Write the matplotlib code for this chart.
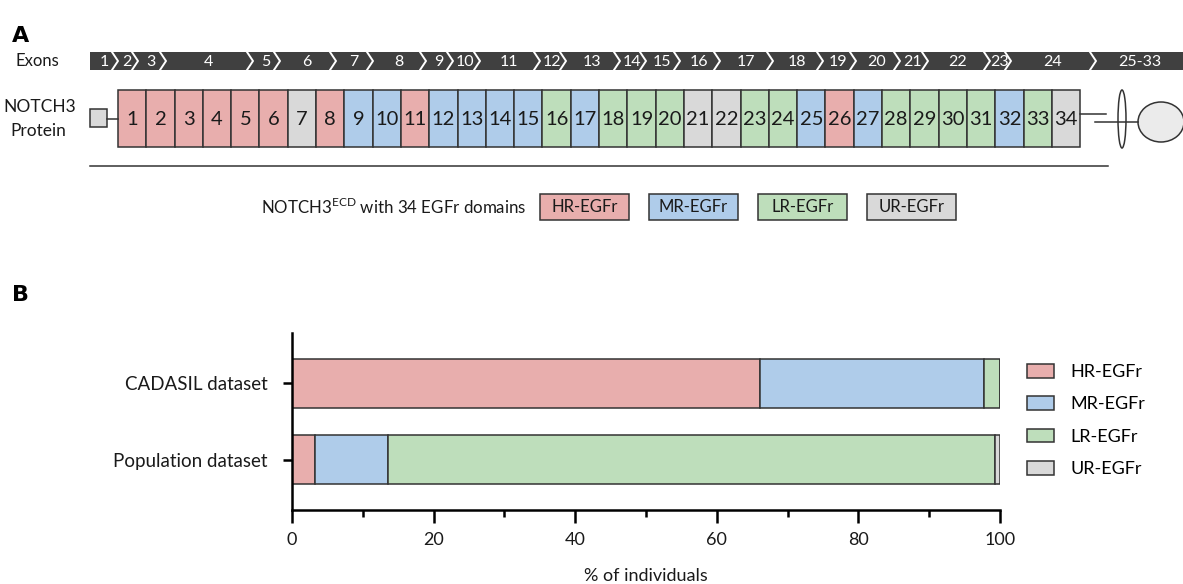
import numpy as np
import matplotlib.pyplot as plt
from matplotlib.patches import Rectangle, Ellipse

plt.rcParams['font.family'] = ['Lato', 'DejaVu Sans']
plt.rcParams['mathtext.fontset'] = 'custom'
plt.rcParams['mathtext.rm'] = 'Lato'

# ---- data ----
classes = ["HR-EGFr", "MR-EGFr", "LR-EGFr", "UR-EGFr"]
colors = ["#E8AEAD", "#AFCCEA", "#BEDEBB", "#D9D9D9"]

# EGFr domain class for domains 1..34 (index into classes)
domain_class = [0, 0, 0, 0, 0, 0, 3, 0, 1, 1,
                0, 1, 1, 1, 1, 2, 1, 2, 2, 2,
                3, 3, 2, 2, 1, 0, 1, 2, 2, 2,
                2, 1, 2, 3]

exon_labels = ["1", "2", "3", "4", "5", "6", "7", "8", "9", "10", "11", "12",
               "13", "14", "15", "16", "17", "18", "19", "20", "21", "22",
               "23", "24", "25-33"]
# exon borders on the diagram scale
exon_edges = [90, 115, 135, 163, 250, 277, 333, 370, 423, 450, 477, 537, 563,
              617, 643, 677, 717, 770, 820, 853, 897, 925, 987, 1008, 1093, 1183]

datasets = ["CADASIL dataset", "Population dataset"]
pct_cadasil = [66.1, 31.7, 2.2, 0.0]
pct_population = [3.3, 10.2, 85.8, 0.7]

edge = "#333333"
txt = "#1a1a1a"

fig = plt.figure(figsize=(11.83, 5.84), dpi=100)

# overlay axes in pixel coordinates for panel A
ov = fig.add_axes([0, 0, 1, 1])
ov.set_xlim(0, 1183)
ov.set_ylim(584, 0)
ov.axis("off")

ov.text(12, 36, "A", fontsize=16, fontweight="bold", family="DejaVu Sans", va="center")
ov.text(12, 295, "B", fontsize=16, fontweight="bold", family="DejaVu Sans", va="center")

# exons bar
ov.text(37, 61, "Exons", fontsize=12, ha="center", va="center", color=txt)
ey0, ey1 = 52, 70
ov.add_patch(Rectangle((exon_edges[0], ey0), exon_edges[-1] - exon_edges[0], ey1 - ey0,
                       facecolor="#404040", edgecolor="none"))
for e in exon_edges[1:-1]:
    ov.plot([e - 3, e + 3, e - 3], [ey0, (ey0 + ey1) / 2, ey1], color="white", lw=1.4)
for i, lab in enumerate(exon_labels):
    xc = (exon_edges[i] + exon_edges[i + 1]) / 2 + 2
    ov.text(xc, 61.5, lab, color="white", fontsize=11.5, ha="center", va="center")

# protein
ov.text(40, 107, "NOTCH3", fontsize=12.5, ha="center", va="center", color=txt)
ov.text(38, 131, "Protein", fontsize=12.5, ha="center", va="center", color=txt)

py0, py1 = 90, 147
pyc = (py0 + py1) / 2
x0, w = 118, 28.3
ov.add_patch(Rectangle((90, 109), 17, 18, facecolor="#D9D9D9", edgecolor=edge, lw=1.1))
ov.plot([107, x0], [pyc, pyc], color=edge, lw=1.1)
for i, c in enumerate(domain_class):
    ov.add_patch(Rectangle((x0 + i * w, py0), w, py1 - py0, facecolor=colors[c],
                           edgecolor=edge, lw=1.1))
    ov.text(x0 + i * w + w / 2, pyc + 1, str(i + 1), fontsize=14.5, ha="center",
            va="center", color=txt)
xe = x0 + len(domain_class) * w
ov.plot([xe, 1106], [114, 114], color=edge, lw=1.1)
ov.plot([1095, 1138], [122, 122], color=edge, lw=1.1)
ov.add_patch(Ellipse((1122, 119), 8, 58, facecolor="white", edgecolor=edge, lw=1.1))
ov.add_patch(Ellipse((1161, 122), 46, 40, facecolor="#EBEBEB", edgecolor=edge, lw=1.1))

ov.plot([90, 1108], [166, 166], color=edge, lw=1.1)

# domain legend
ov.text(526, 207, r"NOTCH3$^{\mathrm{ECD}}$ with 34 EGFr domains", fontsize=12.2,
        ha="right", va="center", color=txt)
for i, (lab, col) in enumerate(zip(classes, colors)):
    bx = 540 + i * 109
    ov.add_patch(Rectangle((bx, 194), 89, 26, facecolor=col, edgecolor=edge, lw=1.1))
    ov.text(bx + 44.5, 207, lab, fontsize=12, ha="center", va="center", color=txt)

# ---- panel B ----
ax = fig.add_axes([292 / 1183, 1 - 510 / 584, (1000 - 292) / 1183, (510 - 333) / 584])
ypos = [1, 0]
h = 0.645
vals = np.array([pct_cadasil, pct_population])
left = np.zeros(2)
for k, (lab, col) in enumerate(zip(classes, colors)):
    ax.barh(ypos, vals[:, k], left=left, height=h, color=col, edgecolor=edge,
            lw=1.1, label=lab)
    left += vals[:, k]

ax.set_xlim(0, 100)
ax.set_ylim(-0.664, 1.664)
ax.set_yticks(ypos)
ax.set_yticklabels(datasets, fontsize=13.5, color=txt)
ax.set_xticks(np.arange(0, 101, 20))
ax.set_xticks(np.arange(10, 100, 20), minor=True)
ax.tick_params(axis="x", which="major", length=9.5, width=1.8, pad=6, labelsize=13,
               labelcolor=txt)
ax.tick_params(axis="x", which="minor", length=5, width=1.8)
ax.tick_params(axis="y", length=6.5, width=1.8, pad=11)
for s in ["top", "right"]:
    ax.spines[s].set_visible(False)
for s in ["left", "bottom"]:
    ax.spines[s].set_linewidth(1.8)
ax.set_xlabel("% of individuals", fontsize=13, color=txt, labelpad=15)

ax.legend(loc="upper left", bbox_to_anchor=(1027 / 1183, 1 - 364 / 584),
          bbox_transform=fig.transFigure, frameon=False, fontsize=13,
          handlelength=1.5, handleheight=0.78, handletextpad=0.9,
          labelspacing=0.9, borderpad=0, borderaxespad=0)

fig.savefig("out.png", dpi=100)
